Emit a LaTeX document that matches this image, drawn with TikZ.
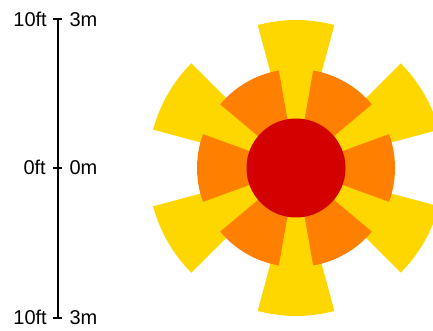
\documentclass[tikz,border=0pt]{standalone}
\usepackage{fontspec}
\setmainfont{Liberation Sans}
\definecolor{cyellow}{RGB}{255,215,0}
\definecolor{corange}{RGB}{255,127,0}
\definecolor{cred}{RGB}{212,0,0}
\begin{document}
\begin{tikzpicture}[x=1pt,y=1pt,
  lbl/.style={inner sep=0pt,font=\fontsize{20}{24}\selectfont},
  bar/.style={line width=2.2pt,black},
  tick/.style={line width=2pt,black}]
\useasboundingbox (0,0) rectangle (433,331);
\coordinate (c) at (296,163);
% yellow slices
\foreach \a in {30,90,150,210,270,330}{
  \fill[cyellow] (c) -- ++(\a-15:148) arc[start angle=\a-15,end angle=\a+15,radius=148] -- cycle;
}
% orange slices
\foreach \a in {0,60,120,180,240,300}{
  \fill[corange] (c) -- ++(\a-20:99) arc[start angle=\a-20,end angle=\a+20,radius=99] -- cycle;
}
% red circle
\fill[cred] (c) circle[radius=49.5];
% scale bar
\coordinate (top) at (57.8,311.5);
\coordinate (mid) at (57.8,163);
\coordinate (bot) at (57.8,13);
\draw[bar] (top) -- (bot);
\foreach \p in {top,mid,bot}{
  \draw[tick] ([xshift=-4.5pt]\p) -- ([xshift=4.5pt]\p);
}
\node[lbl,anchor=base east] (ft1) at ([xshift=-10.8pt,yshift=-7pt]top) {10ft};
\node[lbl,anchor=base west] (m1) at ([xshift=11.5pt,yshift=-7pt]top) {3m};
\node[lbl,anchor=base east] (ft2) at ([xshift=-11.8pt,yshift=-6.5pt]mid) {0ft};
\node[lbl,anchor=base west] (m2) at ([xshift=11.5pt,yshift=-6.5pt]mid) {0m};
\node[lbl,anchor=base east] (ft3) at ([xshift=-10.8pt,yshift=-6.5pt]bot) {10ft};
\node[lbl,anchor=base west] (m3) at ([xshift=11.5pt,yshift=-6.5pt]bot) {3m};
\end{tikzpicture}
\end{document}
